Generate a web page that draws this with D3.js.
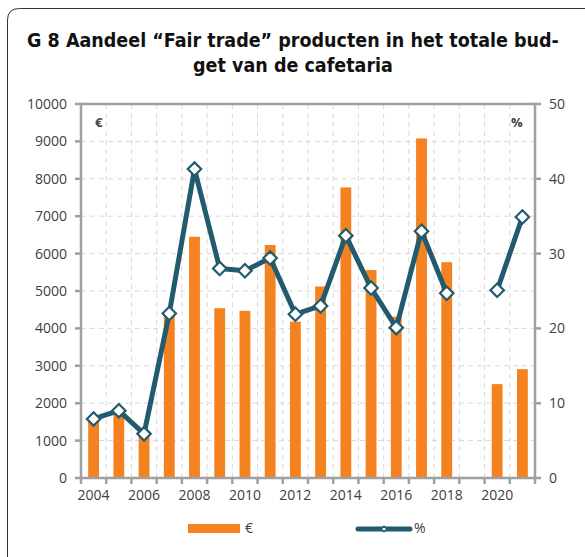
<!DOCTYPE html>
<html>
<head>
<meta charset="utf-8">
<script src="https://cdn.jsdelivr.net/npm/d3@7"></script>
<style>
  body { margin: 0; background: #fff; }
  svg { display: block; }
</style>
</head>
<body>
<script>
// Data
const years = d3.range(2004, 2022).map(String);
const euroValues = [1550, 1700, 1150, 4350, 6450, 4540, 4470, 6230, 4180, 5120, 7770, 5560, 4310, 9080, 5770, null, 2510, 2910];
const pctValues = [7.9, 9.0, 5.9, 22.0, 41.3, 28.0, 27.7, 29.4, 21.9, 23.0, 32.4, 25.4, 20.1, 33.0, 24.7, null, 25.1, 34.9];
const leftTicks = d3.range(0, 10001, 1000);
const rightTicks = d3.range(0, 51, 10);
const xLabels = ["2004", "2006", "2008", "2010", "2012", "2014", "2016", "2018", "2020"];

const W = 585, H = 557;
const margin = { top: 104, right: 50, bottom: 79, left: 81 };
const innerW = W - margin.left - margin.right;
const innerH = H - margin.top - margin.bottom;

const orange = "#f58220";
const teal = "#235b6e";
const axisGrey = "#a0a0a0";
const textColor = "#404040";

const svg = d3.select("body")
    .append("svg")
    .attr("width", W)
    .attr("height", H);

// Frame: top and left line with a rounded corner
svg.append("path")
    .attr("d", "M7.5,557 L7.5,20 Q7.5,8.5 19.5,8.5 L585,8.5")
    .attr("fill", "none")
    .attr("stroke", "#333")
    .attr("stroke-width", 1);

// Title
const titleLines = ["G 8 Aandeel \u201cFair trade\u201d producten in het totale bud-", "get van de cafetaria"];
const title = svg.append("g")
    .attr("font-family", "'DejaVu Sans Condensed', 'DejaVu Sans', sans-serif")
    .attr("font-weight", "bold")
    .attr("fill", "#111");
title.selectAll("text")
    .data(titleLines)
    .join("text")
    .attr("x", 293)
    .attr("y", (d, i) => 47 + i * 25)
    .attr("text-anchor", "middle")
    .attr("font-size", 19)
    .text(d => d);
// fit first line to reference width, but keep it readable
const first = title.select("text").node();
const len = first.getComputedTextLength();
const fs = Math.min(19.5, 19 * 546 / len);
title.selectAll("text").attr("font-size", fs);

const g = svg.append("g")
    .attr("transform", `translate(${margin.left},${margin.top})`);

const x = d3.scaleBand()
    .domain(years)
    .range([0, innerW]);

const yLeft = d3.scaleLinear()
    .domain([0, 10000])
    .range([innerH, 0]);

const yRight = d3.scaleLinear()
    .domain([0, 50])
    .range([innerH, 0]);

// Grid lines
g.append("g")
    .selectAll("line")
    .data(leftTicks.slice(1))
    .join("line")
    .attr("x1", 0)
    .attr("x2", innerW)
    .attr("y1", d => yLeft(d))
    .attr("y2", d => yLeft(d))
    .attr("stroke", "#d9d9d9")
    .attr("stroke-dasharray", "5,4");

g.append("g")
    .selectAll("line")
    .data(years.slice(1))
    .join("line")
    .attr("x1", d => x(d))
    .attr("x2", d => x(d))
    .attr("y1", 0)
    .attr("y2", innerH)
    .attr("stroke", "#d9d9d9")
    .attr("stroke-dasharray", "5,4");

// Bars
const barW = x.bandwidth() * 0.43;
g.append("g")
    .selectAll("rect")
    .data(years.map((y, i) => ({ year: y, value: euroValues[i] })).filter(d => d.value != null))
    .join("rect")
    .attr("x", d => x(d.year) + (x.bandwidth() - barW) / 2)
    .attr("y", d => yLeft(d.value))
    .attr("width", barW)
    .attr("height", d => innerH - yLeft(d.value))
    .attr("fill", orange);

// Axes
const axisG = g.append("g").attr("stroke", axisGrey).attr("stroke-width", 2.5);
axisG.append("line").attr("x1", 0).attr("x2", 0).attr("y1", 0).attr("y2", innerH + 1);
axisG.append("line").attr("x1", innerW).attr("x2", innerW).attr("y1", 0).attr("y2", innerH + 1);
axisG.append("line").attr("x1", -1).attr("x2", innerW + 1).attr("y1", innerH).attr("y2", innerH);
axisG.append("line").attr("x1", -1).attr("x2", innerW + 1).attr("y1", 0).attr("y2", 0);

// left ticks
axisG.append("g").selectAll("line")
    .data(leftTicks)
    .join("line")
    .attr("x1", -6).attr("x2", 0)
    .attr("y1", d => yLeft(d)).attr("y2", d => yLeft(d));
// right ticks
axisG.append("g").selectAll("line")
    .data(rightTicks)
    .join("line")
    .attr("x1", innerW).attr("x2", innerW + 6)
    .attr("y1", d => yRight(d)).attr("y2", d => yRight(d));
// x ticks at category boundaries
axisG.append("g").selectAll("line")
    .data(years.concat(["end"]))
    .join("line")
    .attr("x1", (d, i) => i * x.step()).attr("x2", (d, i) => i * x.step())
    .attr("y1", innerH).attr("y2", innerH + 6);

const labelFont = "'Open Sans', sans-serif";
g.append("g")
    .selectAll("text")
    .data(leftTicks)
    .join("text")
    .attr("x", -14)
    .attr("y", d => yLeft(d))
    .attr("dy", "0.35em")
    .attr("text-anchor", "end")
    .attr("font-family", labelFont)
    .attr("font-size", 14)
    .attr("fill", textColor)
    .text(d => d);

g.append("g")
    .selectAll("text")
    .data(rightTicks)
    .join("text")
    .attr("x", innerW + 14)
    .attr("y", d => yRight(d))
    .attr("dy", "0.35em")
    .attr("text-anchor", "start")
    .attr("font-family", labelFont)
    .attr("font-size", 14)
    .attr("fill", textColor)
    .text(d => d);

g.append("g")
    .selectAll("text")
    .data(xLabels)
    .join("text")
    .attr("x", d => x(d) + x.bandwidth() / 2)
    .attr("y", innerH + 22)
    .attr("text-anchor", "middle")
    .attr("font-family", labelFont)
    .attr("font-size", 14)
    .attr("fill", textColor)
    .text(d => d);

// unit labels inside plot
g.append("text")
    .attr("x", 14).attr("y", 23)
    .attr("font-family", labelFont).attr("font-size", 13).attr("font-weight", "bold")
    .attr("fill", textColor)
    .text("\u20ac");
g.append("text")
    .attr("x", innerW - 24).attr("y", 23)
    .attr("font-family", labelFont).attr("font-size", 13).attr("font-weight", "bold")
    .attr("fill", textColor)
    .text("%");

// Line
const pts = years.map((y, i) => ({ year: y, value: pctValues[i] }));
const line = d3.line()
    .defined(d => d.value != null)
    .x(d => x(d.year) + x.bandwidth() / 2)
    .y(d => yRight(d.value));

g.append("path")
    .datum(pts)
    .attr("d", line)
    .attr("fill", "none")
    .attr("stroke", teal)
    .attr("stroke-width", 5)
    .attr("stroke-linejoin", "round");

g.append("g")
    .selectAll("path")
    .data(pts.filter(d => d.value != null))
    .join("path")
    .attr("d", d3.symbol(d3.symbolDiamond2, 115))
    .attr("transform", d => `translate(${x(d.year) + x.bandwidth() / 2},${yRight(d.value)})`)
    .attr("fill", "#fff")
    .attr("stroke", teal)
    .attr("stroke-width", 2.2);

// Legend
const legend = svg.append("g");
legend.append("rect")
    .attr("x", 188).attr("y", 524)
    .attr("width", 52).attr("height", 9)
    .attr("fill", orange);
legend.append("text")
    .attr("x", 245).attr("y", 533)
    .attr("font-family", labelFont).attr("font-size", 14)
    .attr("fill", textColor)
    .text("\u20ac");
legend.append("line")
    .attr("x1", 358).attr("x2", 410)
    .attr("y1", 529).attr("y2", 529)
    .attr("stroke", teal).attr("stroke-width", 5)
    .attr("stroke-linecap", "round");
legend.append("path")
    .attr("d", d3.symbol(d3.symbolDiamond2, 20))
    .attr("transform", "translate(384,529)")
    .attr("fill", "#fff")
    .attr("stroke", teal)
    .attr("stroke-width", 1.5);
legend.append("text")
    .attr("x", 414).attr("y", 533)
    .attr("font-family", labelFont).attr("font-size", 14)
    .attr("fill", textColor)
    .text("%");
</script>
</body>
</html>
